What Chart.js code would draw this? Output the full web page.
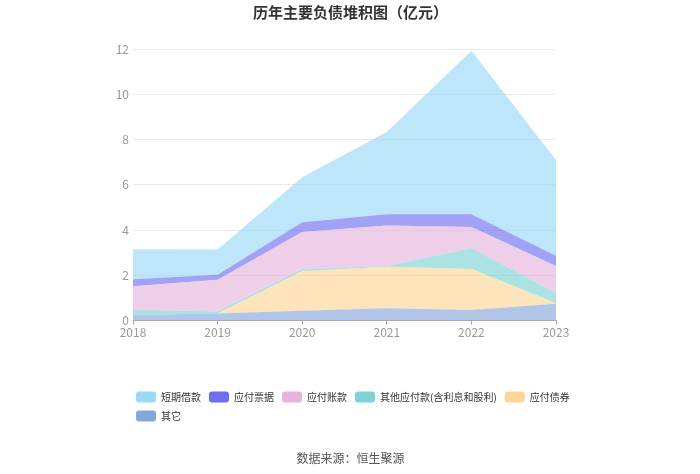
<!DOCTYPE html>
<html>
<head>
<meta charset="utf-8">
<script src="https://cdn.jsdelivr.net/npm/chart.js@4"></script>
<style>
  html, body { margin: 0; padding: 0; background: #fff; }
  #wrap { width: 700px; height: 474px; }
</style>
</head>
<body>
<div id="wrap"><canvas id="chart"></canvas></div>
<script>
const years = ["2018", "2019", "2020", "2021", "2022", "2023"];
const yTicks = [0, 2, 4, 6, 8, 10, 12];

// bottom to top of the stack
const other = [0.25, 0.31, 0.44, 0.55, 0.47, 0.74];
const bonds = [0, 0, 1.74, 1.83, 1.81, 0.03];
const otherPayables = [0.24, 0.09, 0.09, 0.03, 0.92, 0.46];
const accountsPayable = [1.03, 1.41, 1.65, 1.79, 0.93, 1.18];
const notesPayable = [0.31, 0.22, 0.42, 0.5, 0.57, 0.45];
const shortLoans = [1.32, 1.11, 1.99, 3.63, 7.22, 4.24];

const names = ["其它", "应付债券", "其他应付款(含利息和股利)", "应付账款", "应付票据", "短期借款"];
const colors = ["#85a6da", "#fdd596", "#7ed3d6", "#e6b3dd", "#6e6ef0", "#9ad9f7"];

const font = '"Noto Sans CJK SC", "Noto Sans", sans-serif';

const hexToRgba = (hex, a) => {
  const n = parseInt(hex.slice(1), 16);
  return `rgba(${(n >> 16) & 255}, ${(n >> 8) & 255}, ${n & 255}, ${a})`;
};

const series = [other, bonds, otherPayables, accountsPayable, notesPayable, shortLoans];

const datasets = series.map((values, i) => ({
  label: names[i],
  data: values,
  backgroundColor: hexToRgba(colors[i], 0.65),
  borderColor: "transparent",
  borderWidth: 1,
  pointRadius: 0,
  pointHoverRadius: 0,
  tension: 0,
  fill: i === 0 ? "origin" : "-1",
}));

// legend sits under the plot, starting near the plot's left edge
const legendShift = {
  id: "legendShift",
  afterLayout(chart) {
    const lg = chart.legend;
    const dx = 128 - lg.left;
    lg.left += dx;
    lg.right += dx;
  },
};

new Chart(document.getElementById("chart"), {
  type: "line",
  data: { labels: years, datasets },
  plugins: [legendShift],
  options: {
    responsive: true,
    maintainAspectRatio: false,
    animation: false,
    layout: { padding: { left: 108, right: 107, top: 0, bottom: 8 } },
    plugins: {
      title: {
        display: true,
        text: "历年主要负债堆积图（亿元）",
        color: "#333",
        font: { family: font, size: 15, weight: "bold" },
        padding: { top: 3, bottom: 28 },
      },
      subtitle: {
        display: true,
        position: "bottom",
        text: "数据来源：恒生聚源",
        color: "#555",
        font: { family: font, size: 12 },
        padding: { top: 20, bottom: 0 },
      },
      legend: {
        position: "bottom",
        align: "start",
        reverse: true,
        labels: {
          color: "#333",
          font: { family: font, size: 10 },
          boxWidth: 20,
          boxHeight: 11,
          padding: 8,
          useBorderRadius: true,
          borderRadius: 3,
          generateLabels: (chart) =>
            Chart.defaults.plugins.legend.labels.generateLabels(chart).map((item) => ({
              ...item,
              fillStyle: colors[item.datasetIndex],
              strokeStyle: colors[item.datasetIndex],
              lineWidth: 0,
            })),
        },
      },
      tooltip: { enabled: false },
    },
    scales: {
      x: {
        offset: false,
        grid: { drawOnChartArea: false, drawTicks: true, tickLength: 4, color: "#aaa" },
        border: { display: true, color: "#aaa" },
        ticks: { color: "#999", font: { family: font, size: 12 }, padding: 1, maxRotation: 0 },
        afterFit: (scale) => { scale.height = 63; },
      },
      y: {
        stacked: true,
        min: 0,
        max: 12,
        afterBuildTicks: (scale) => { scale.ticks = yTicks.map((v) => ({ value: v })); },
        grid: { color: "#e8e8e8", drawTicks: false },
        border: { display: false },
        ticks: { color: "#999", font: { family: font, size: 12 }, padding: 4 },
        afterFit: (scale) => { scale.width = 25; },
      },
      y2: {
        position: "right",
        display: true,
        grid: { drawOnChartArea: false, drawTicks: false },
        border: { display: false },
        ticks: { display: false },
        afterFit: (scale) => { scale.width = 37; },
      },
    },
  },
});
</script>
</body>
</html>
